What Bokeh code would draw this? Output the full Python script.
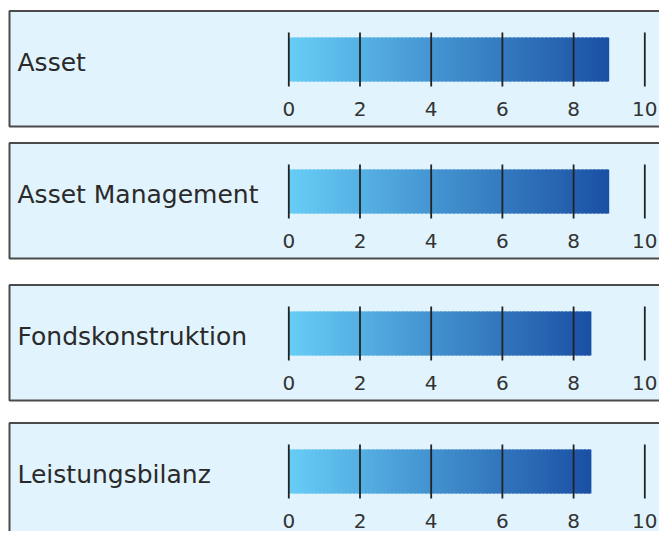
from bokeh.plotting import figure
from bokeh.layouts import column
from bokeh.models import Range1d, ColumnDataSource
from bokeh.core.properties import value
from bokeh.embed import file_html
from bokeh.resources import INLINE

# ---- data ----
categories = ["Asset", "Asset Management", "Fondskonstruktion", "Leistungsbilanz"]
scores = [9.0, 9.0, 8.5, 8.5]
ticks = [0, 2, 4, 6, 8, 10]
tick_labels = ["0", "2", "4", "6", "8", "10"]

# ---- style / layout ----
W = 659
PX_PER_UNIT = 35.6
ZERO_PX = 288.3
XS = -ZERO_PX / PX_PER_UNIT
XE = XS + W / PX_PER_UNIT
fig_tops = [0, 133, 271, 411, 531]
bar_centers = [59, 191, 333, 471]
BOX_TOP = 48.5
BOX_H = 115.5
BAR_HALF = 22
GRID_HALF = 27
C0 = (103, 205, 246)
C1 = (27, 80, 164)
BG = "#e1f3fd"
BORDER = "#4a4a4a"
FONT = "DejaVu Sans"
N = 80


def lerp(a, b, t):
    return "#%02x%02x%02x" % tuple(int(round(a[i] + (b[i] - a[i]) * t)) for i in range(3))


figs = []
for i, (cat, v) in enumerate(zip(categories, scores)):
    top = bar_centers[i] - fig_tops[i]
    bottom = -(fig_tops[i + 1] - bar_centers[i])
    p = figure(width=W, height=fig_tops[i + 1] - fig_tops[i],
               x_range=Range1d(XS, XE), y_range=Range1d(bottom, top),
               output_backend="svg", toolbar_location=None,
               min_border=0, outline_line_color=None,
               background_fill_color="white", border_fill_color="white")
    p.axis.visible = False
    p.grid.visible = False

    # panel box
    p.quad(left=[XS + 9 / PX_PER_UNIT], right=[XE + 5], top=[BOX_TOP], bottom=[BOX_TOP - BOX_H],
           fill_color=BG, line_color=BORDER, line_width=2)

    # gradient bar
    lefts, rights, cols = [], [], []
    for k in range(N):
        lefts.append(v * k / N)
        rights.append(min(v, v * (k + 1.6) / N))
        cols.append(lerp(C0, C1, (k + 0.5) / N))
    src = ColumnDataSource(dict(left=lefts, right=rights, color=cols))
    p.quad(left="left", right="right", top=BAR_HALF, bottom=-BAR_HALF,
           fill_color="color", line_color=None, source=src)

    # grid lines
    p.segment(x0=ticks, x1=ticks, y0=[-GRID_HALF] * len(ticks), y1=[GRID_HALF] * len(ticks),
              line_color="#222222", line_width=1.8)

    # tick labels
    p.text(x=ticks, y=[-49] * len(ticks), text=tick_labels,
           text_font=value(FONT), text_font_size="20px", text_color="#333333",
           text_align="center", text_baseline="alphabetic")

    # category label
    p.text(x=[XS + 17 / PX_PER_UNIT], y=[-2.5], text=[cat],
           text_font=value(FONT), text_font_size="25px", text_color="#2a2a2a",
           text_align="left", text_baseline="alphabetic")
    figs.append(p)

layout = column(*figs, spacing=0)
open("out.html", "w").write(file_html(layout, INLINE))
